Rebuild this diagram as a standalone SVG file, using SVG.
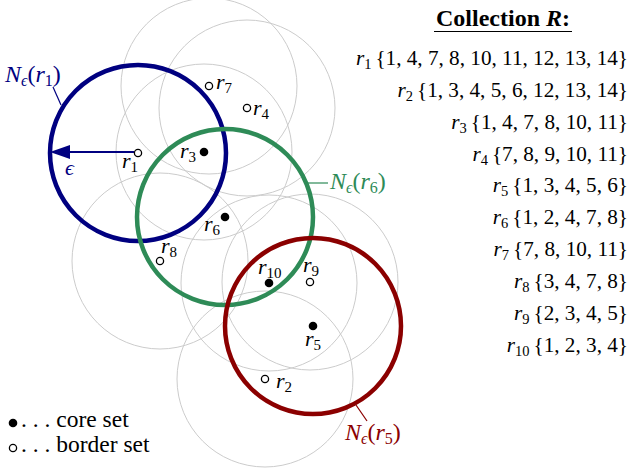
<svg xmlns="http://www.w3.org/2000/svg" width="633" height="470" viewBox="0 0 633 470">
<rect width="633" height="470" fill="#fff"/>
<g id="eps-range" fill="none" stroke="#cccccc" stroke-width="1">
<circle cx="138" cy="153" r="88"/>
<circle cx="265" cy="379" r="88"/>
<circle cx="204" cy="152" r="88"/>
<circle cx="247" cy="108" r="88"/>
<circle cx="313" cy="326" r="88"/>
<circle cx="225" cy="217" r="88"/>
<circle cx="209" cy="86" r="88"/>
<circle cx="160" cy="261" r="88"/>
<circle cx="310" cy="282" r="88"/>
<circle cx="269" cy="283" r="88"/>
</g>
<g id="N-r1">
<circle cx="138" cy="153" r="88" fill="none" stroke="#000080" stroke-width="4.5"/>
<text x="5" y="82" fill="#000080" font-family="Liberation Serif" font-size="24"><tspan font-style="italic">N</tspan><tspan font-style="italic" font-size="16" dy="4">ϵ</tspan><tspan dy="-4">(</tspan><tspan font-style="italic">r</tspan><tspan font-size="16" dy="4">1</tspan><tspan dy="-4">)</tspan></text>
</g>
<g id="N-r6">
<circle cx="225" cy="217" r="88" fill="none" stroke="#2e8b57" stroke-width="4.5"/>
<text x="330" y="189" fill="#2e8b57" font-family="Liberation Serif" font-size="24"><tspan font-style="italic">N</tspan><tspan font-style="italic" font-size="16" dy="4">ϵ</tspan><tspan dy="-4">(</tspan><tspan font-style="italic">r</tspan><tspan font-size="16" dy="4">6</tspan><tspan dy="-4">)</tspan></text>
</g>
<g id="N-r5">
<circle cx="313" cy="326" r="88" fill="none" stroke="#8b0000" stroke-width="4.5"/>
<text x="345" y="440" fill="#8b0000" font-family="Liberation Serif" font-size="24"><tspan font-style="italic">N</tspan><tspan font-style="italic" font-size="16" dy="4">ϵ</tspan><tspan dy="-4">(</tspan><tspan font-style="italic">r</tspan><tspan font-size="16" dy="4">5</tspan><tspan dy="-4">)</tspan></text>
</g>
<g id="connectors">
<line x1="53" y1="87" x2="61" y2="105" stroke="#000080" stroke-width="1.2"/>
<line x1="306" y1="183" x2="328" y2="183" stroke="#2e8b57" stroke-width="1.2"/>
<line x1="356" y1="405" x2="367" y2="421" stroke="#8b0000" stroke-width="1.2"/>
<line x1="134" y1="152" x2="66" y2="152" stroke="#000080" stroke-width="2"/>
<polygon points="50,152 70,145 70,159" fill="#000080"/>
<text x="65" y="175" font-style="italic" fill="#000080" font-family="Liberation Serif" font-size="22">ϵ</text>
</g>
<g id="r1"><circle cx="138" cy="153" r="3.6" fill="#fff" stroke="#000" stroke-width="1.3"/><text x="122" y="168" font-family="Liberation Serif" font-size="22"><tspan font-style="italic">r</tspan><tspan font-size="15" dy="4">1</tspan></text></g>
<g id="r2"><circle cx="265" cy="379" r="3.6" fill="#fff" stroke="#000" stroke-width="1.3"/><text x="276" y="388" font-family="Liberation Serif" font-size="22"><tspan font-style="italic">r</tspan><tspan font-size="15" dy="4">2</tspan></text></g>
<g id="r3"><circle cx="204" cy="152" r="4.3"/><text x="180" y="158" font-family="Liberation Serif" font-size="22"><tspan font-style="italic">r</tspan><tspan font-size="15" dy="4">3</tspan></text></g>
<g id="r4"><circle cx="247" cy="108" r="3.6" fill="#fff" stroke="#000" stroke-width="1.3"/><text x="253" y="115" font-family="Liberation Serif" font-size="22"><tspan font-style="italic">r</tspan><tspan font-size="15" dy="4">4</tspan></text></g>
<g id="r5"><circle cx="313" cy="326" r="4.3"/><text x="305" y="346" font-family="Liberation Serif" font-size="22"><tspan font-style="italic">r</tspan><tspan font-size="15" dy="4">5</tspan></text></g>
<g id="r6"><circle cx="225" cy="217" r="4.3"/><text x="204" y="231" font-family="Liberation Serif" font-size="22"><tspan font-style="italic">r</tspan><tspan font-size="15" dy="4">6</tspan></text></g>
<g id="r7"><circle cx="209" cy="86" r="3.6" fill="#fff" stroke="#000" stroke-width="1.3"/><text x="216" y="89" font-family="Liberation Serif" font-size="22"><tspan font-style="italic">r</tspan><tspan font-size="15" dy="4">7</tspan></text></g>
<g id="r8"><circle cx="160" cy="261" r="3.6" fill="#fff" stroke="#000" stroke-width="1.3"/><text x="161" y="253" font-family="Liberation Serif" font-size="22"><tspan font-style="italic">r</tspan><tspan font-size="15" dy="4">8</tspan></text></g>
<g id="r9"><circle cx="310" cy="282" r="3.6" fill="#fff" stroke="#000" stroke-width="1.3"/><text x="303" y="272" font-family="Liberation Serif" font-size="22"><tspan font-style="italic">r</tspan><tspan font-size="15" dy="4">9</tspan></text></g>
<g id="r10"><circle cx="269" cy="283" r="4.3"/><text x="258" y="274" font-family="Liberation Serif" font-size="22"><tspan font-style="italic">r</tspan><tspan font-size="15" dy="4">10</tspan></text></g>
<g id="collection">
<text x="503" y="26" text-anchor="middle" font-weight="bold" font-family="Liberation Serif" font-size="24">Collection <tspan font-style="italic">R</tspan>:</text>
<line x1="434" y1="31.5" x2="572" y2="31.5" stroke="#000" stroke-width="1.2"/>
<text x="628" y="65" text-anchor="end" font-family="Liberation Serif" font-size="21.2"><tspan font-style="italic">r</tspan><tspan font-size="14.5" dy="4">1</tspan><tspan dy="-4" dx="4">{1, 4, 7, 8, 10, 11, 12, 13, 14}</tspan></text>
<text x="628" y="97" text-anchor="end" font-family="Liberation Serif" font-size="21.2"><tspan font-style="italic">r</tspan><tspan font-size="14.5" dy="4">2</tspan><tspan dy="-4" dx="4">{1, 3, 4, 5, 6, 12, 13, 14}</tspan></text>
<text x="628" y="128.5" text-anchor="end" font-family="Liberation Serif" font-size="21.2"><tspan font-style="italic">r</tspan><tspan font-size="14.5" dy="4">3</tspan><tspan dy="-4" dx="4">{1, 4, 7, 8, 10, 11}</tspan></text>
<text x="628" y="160.5" text-anchor="end" font-family="Liberation Serif" font-size="21.2"><tspan font-style="italic">r</tspan><tspan font-size="14.5" dy="4">4</tspan><tspan dy="-4" dx="4">{7, 8, 9, 10, 11}</tspan></text>
<text x="628" y="192" text-anchor="end" font-family="Liberation Serif" font-size="21.2"><tspan font-style="italic">r</tspan><tspan font-size="14.5" dy="4">5</tspan><tspan dy="-4" dx="4">{1, 3, 4, 5, 6}</tspan></text>
<text x="628" y="224" text-anchor="end" font-family="Liberation Serif" font-size="21.2"><tspan font-style="italic">r</tspan><tspan font-size="14.5" dy="4">6</tspan><tspan dy="-4" dx="4">{1, 2, 4, 7, 8}</tspan></text>
<text x="628" y="256" text-anchor="end" font-family="Liberation Serif" font-size="21.2"><tspan font-style="italic">r</tspan><tspan font-size="14.5" dy="4">7</tspan><tspan dy="-4" dx="4">{7, 8, 10, 11}</tspan></text>
<text x="628" y="288" text-anchor="end" font-family="Liberation Serif" font-size="21.2"><tspan font-style="italic">r</tspan><tspan font-size="14.5" dy="4">8</tspan><tspan dy="-4" dx="4">{3, 4, 7, 8}</tspan></text>
<text x="628" y="320" text-anchor="end" font-family="Liberation Serif" font-size="21.2"><tspan font-style="italic">r</tspan><tspan font-size="14.5" dy="4">9</tspan><tspan dy="-4" dx="4">{2, 3, 4, 5}</tspan></text>
<text x="628" y="352" text-anchor="end" font-family="Liberation Serif" font-size="21.2"><tspan font-style="italic">r</tspan><tspan font-size="14.5" dy="4">10</tspan><tspan dy="-4" dx="4">{1, 2, 3, 4}</tspan></text>
</g>
<g id="legend">
<circle cx="13" cy="423" r="4.3"/>
<text x="21" y="427" font-family="Liberation Serif" font-size="23.5">. . . core set</text>
<circle cx="13" cy="448" r="3.6" fill="#fff" stroke="#000" stroke-width="1.3"/>
<text x="21" y="452" font-family="Liberation Serif" font-size="23.5">. . . border set</text>
</g>
</svg>
